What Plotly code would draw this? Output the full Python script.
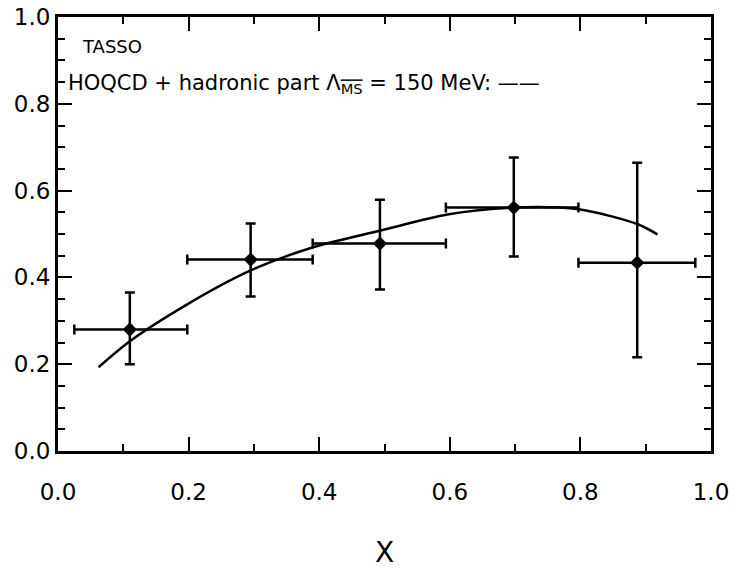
import plotly.graph_objects as go

# Data points (TASSO)
x_pts = [0.11, 0.295, 0.493, 0.698, 0.887]
y_pts = [0.280, 0.441, 0.478, 0.561, 0.434]
y_hi = [0.365, 0.524, 0.579, 0.676, 0.664]
y_lo = [0.200, 0.356, 0.372, 0.448, 0.216]
x_lo = [0.025, 0.198, 0.39, 0.594, 0.797]
x_hi = [0.198, 0.39, 0.594, 0.797, 0.976]

# Theory curve (HOQCD + hadronic part)
curve_x = [0.062, 0.110, 0.198, 0.295, 0.392, 0.494, 0.596, 0.697, 0.797, 0.887, 0.918]
curve_y = [0.193, 0.253, 0.338, 0.416, 0.470, 0.508, 0.545, 0.561, 0.557, 0.523, 0.499]

x_ticks = [0.0, 0.2, 0.4, 0.6, 0.8, 1.0]
x_labels = ["0.0", "0.2", "0.4", "0.6", "0.8", "1.0"]
y_ticks = [0.0, 0.2, 0.4, 0.6, 0.8, 1.0]
y_labels = ["0.0", "0.2", "0.4", "0.6", "0.8", "1.0"]

FONT = "DejaVu Sans"

fig = go.Figure()
fig.add_trace(go.Scatter(
    x=curve_x, y=curve_y, mode="lines",
    line=dict(color="black", width=2.5, shape="spline", smoothing=0.8),
    showlegend=False, hoverinfo="skip"))
fig.add_trace(go.Scatter(
    x=x_pts, y=y_pts, mode="markers",
    marker=dict(symbol="diamond", size=11, color="black"),
    error_y=dict(type="data", symmetric=False,
                 array=[h - y for h, y in zip(y_hi, y_pts)],
                 arrayminus=[y - l for l, y in zip(y_lo, y_pts)],
                 color="black", thickness=2.5, width=5),
    error_x=dict(type="data", symmetric=False,
                 array=[h - x for h, x in zip(x_hi, x_pts)],
                 arrayminus=[x - l for l, x in zip(x_lo, x_pts)],
                 color="black", thickness=2.5, width=5),
    showlegend=False))

fig.update_layout(
    width=744, height=569,
    margin=dict(l=58, r=33, t=17, b=118),
    paper_bgcolor="white", plot_bgcolor="white",
    font=dict(family=FONT, color="black"),
    xaxis=dict(range=[0, 1], tickvals=x_ticks, ticktext=x_labels, automargin=False,
               ticks="inside", ticklen=14, tickwidth=2, tickcolor="black",
               minor=dict(dtick=0.1, ticks="inside", ticklen=7, tickwidth=2, tickcolor="black"),
               showline=True, linecolor="black", linewidth=3, mirror="ticks",
               showgrid=False, zeroline=False,
               tickfont=dict(size=23, family=FONT), ticklabelstandoff=18,
               title=dict(text="X", font=dict(size=28, family=FONT), standoff=40)),
    yaxis=dict(range=[0, 1], tickvals=y_ticks, ticktext=y_labels, automargin=False,
               ticks="inside", ticklen=14, tickwidth=2, tickcolor="black",
               minor=dict(dtick=0.05, ticks="inside", ticklen=7, tickwidth=2, tickcolor="black"),
               showline=True, linecolor="black", linewidth=3, mirror="ticks",
               showgrid=False, zeroline=False,
               tickfont=dict(size=23, family=FONT), ticklabelstandoff=0),
)

fig.add_annotation(x=0.034, y=0.933, xref="paper", yref="paper", xanchor="left", yanchor="middle",
                   text="TASSO", showarrow=False, font=dict(size=18, family=FONT))
fig.add_annotation(x=0.012, y=0.845, xref="paper", yref="paper", xanchor="left", yanchor="middle",
                   text="HOQCD + hadronic part Λ<sub><span style='text-decoration:overline'>MS</span></sub> = 150 MeV: ——",
                   showarrow=False, font=dict(size=21, family=FONT))

fig.write_html("out.html")
